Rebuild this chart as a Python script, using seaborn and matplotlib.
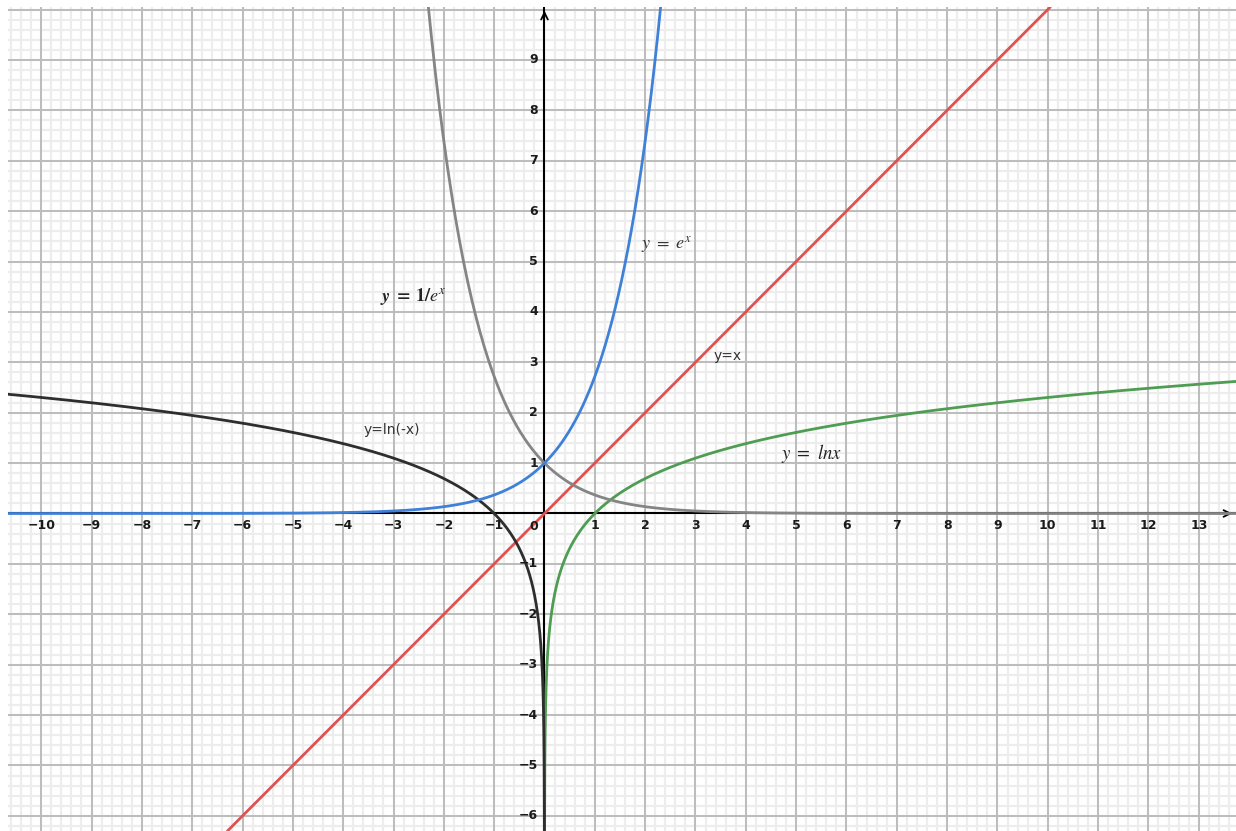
import numpy as np
import matplotlib
matplotlib.use("Agg")
import matplotlib.pyplot as plt
import seaborn as sns

# View window of the coordinate plane
X_MIN, X_MAX = -10.66, 13.74
Y_MIN, Y_MAX = -6.30, 10.05

# Axis tick labels
x_tick_values = [v for v in range(-10, 14) if v != 0]
y_tick_values = [v for v in range(-6, 10) if v != 0]

# Curve styles
curve_colors = {
    "exp": "#3f80d8",
    "inv_exp": "#858585",
    "identity": "#e05252",
    "log": "#4e9d52",
    "log_neg": "#2e2e2e",
}

sns.set_theme(style="white")
plt.rcParams["font.family"] = ["DejaVu Sans"]

fig = plt.figure(figsize=(12.36, 8.31), dpi=100)
ax = fig.add_axes([8 / 1236, 0, 1 - 8 / 1236, 1 - 7 / 831])
ax.set_xlim(X_MIN, X_MAX)
ax.set_ylim(Y_MIN, Y_MAX)
ax.set_xticks([])
ax.set_yticks([])
for s in ax.spines.values():
    s.set_visible(False)

# Graph-paper grid: minor lines every 0.2 underneath, major lines every 1 on top
minor_x = np.arange(np.ceil(X_MIN * 5), np.floor(X_MAX * 5) + 1) / 5
minor_y = np.arange(np.ceil(Y_MIN * 5), np.floor(Y_MAX * 5) + 1) / 5
major_x = np.arange(np.ceil(X_MIN), np.floor(X_MAX) + 1)
major_y = np.arange(np.ceil(Y_MIN), np.floor(Y_MAX) + 1)
ax.vlines(minor_x, Y_MIN, Y_MAX, color="#ededed", lw=1.6, zorder=0.2)
ax.hlines(minor_y, X_MIN, X_MAX, color="#ededed", lw=1.6, zorder=0.2)
ax.vlines(major_x, Y_MIN, Y_MAX, color="#bcbcbc", lw=1.4, zorder=0.5)
ax.hlines(major_y, X_MIN, X_MAX, color="#bcbcbc", lw=1.4, zorder=0.5)

# Functions
x_exp = np.linspace(X_MIN, np.log(Y_MAX) + 0.05, 600)
x_inv = np.linspace(-np.log(Y_MAX) - 0.05, X_MAX, 600)
x_id = np.linspace(Y_MIN, Y_MAX, 50)
x_log = np.concatenate([np.geomspace(np.exp(Y_MIN - 0.05), 1, 400), np.linspace(1, X_MAX, 300)])
x_logn = -x_log[::-1]

lw = 2.0
sns.lineplot(x=x_id, y=x_id, color=curve_colors["identity"], lw=lw, ax=ax, zorder=3)
sns.lineplot(x=x_log, y=np.log(x_log), color=curve_colors["log"], lw=lw, ax=ax, zorder=3, sort=False)
sns.lineplot(x=x_logn, y=np.log(-x_logn), color=curve_colors["log_neg"], lw=lw, ax=ax, zorder=3.2, sort=False)
sns.lineplot(x=x_inv, y=np.exp(-x_inv), color=curve_colors["inv_exp"], lw=lw, ax=ax, zorder=3.1)
sns.lineplot(x=x_exp, y=np.exp(x_exp), color=curve_colors["exp"], lw=lw, ax=ax, zorder=3.3)
ax.set_xlim(X_MIN, X_MAX)
ax.set_ylim(Y_MIN, Y_MAX)
ax.set_xlabel("")
ax.set_ylabel("")

# Coordinate axes with arrow heads
ax.axhline(0, color="black", lw=1.5, zorder=2.5)
ax.axvline(0, color="black", lw=1.5, zorder=2.5)
ax.annotate("", xy=(X_MAX - 0.02, 0), xytext=(X_MAX - 0.25, 0),
            arrowprops=dict(arrowstyle="->", color="black", lw=1.3), zorder=2.6)
ax.annotate("", xy=(0, Y_MAX - 0.02), xytext=(0, Y_MAX - 0.25),
            arrowprops=dict(arrowstyle="->", color="black", lw=1.3), zorder=2.6)

# Tick labels next to the axes
tick_font = dict(fontsize=9, color="#1a1a1a", fontweight="bold", zorder=4)
for v in x_tick_values:
    ax.text(v, -0.23, f"{v}".replace("-", "\u2212"), ha="center", va="center", **tick_font)
for v in y_tick_values:
    ax.text(-0.13, v, f"{v}".replace("-", "\u2212"), ha="right", va="center", **tick_font)
ax.text(-0.13, -0.25, "0", ha="right", va="center", **tick_font)

# Curve names
ax.text(-2.61, 4.30, r"$\boldsymbol{y\ =\ 1/e^x}$", math_fontfamily="stix",
        fontsize=13, color="#222222", ha="center", va="center", zorder=4)
ax.text(2.42, 5.33, r"$y\ =\ e^x$", math_fontfamily="stix",
        fontsize=13, color="#333333", ha="center", va="center", zorder=4)
ax.text(5.31, 1.20, r"$y\ =\ lnx$", math_fontfamily="stix",
        fontsize=13.5, color="#222222", ha="center", va="center", zorder=4)
ax.text(3.64, 3.12, "y=x", fontsize=10, color="#333333",
        ha="center", va="center", zorder=4)
ax.text(-3.03, 1.66, "y=ln(-x)", fontsize=10, color="#333333",
        ha="center", va="center", zorder=4)

fig.savefig("out.png", dpi=100, facecolor="white")
